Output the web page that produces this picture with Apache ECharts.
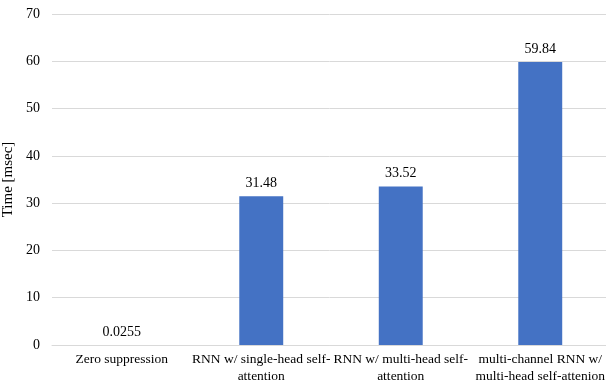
<!DOCTYPE html>
<html>
<head>
<meta charset="utf-8">
<script src="https://cdn.jsdelivr.net/npm/echarts@6/dist/echarts.min.js"></script>
<style>
  html, body { margin: 0; padding: 0; background: #fff; }
  #chart { width: 606px; height: 387px; }
</style>
</head>
<body>
<div id="chart"></div>
<script>
// Inference time per model variant
const categories = [
  'Zero suppression',
  'RNN w/ single-head self-\nattention',
  'RNN w/ multi-head self-\nattention',
  'multi-channel RNN w/\nmulti-head self-attenion'
];
const timeMsec = [0.0255, 31.48, 33.52, 59.84];
const valueLabels = ['0.0255', '31.48', '33.52', '59.84'];
const yTicks = { min: 0, max: 70, interval: 10 };

const font = '"Liberation Serif", "Times New Roman", serif';
const chart = echarts.init(document.getElementById('chart'), null, { renderer: 'canvas' });

chart.setOption({
  animation: false,
  textStyle: { fontFamily: font },
  grid: { left: 52, right: -4, top: 14, bottom: 42, containLabel: false, outerBoundsMode: 'none' },
  xAxis: {
    type: 'category',
    data: categories,
    axisLine: { show: true, lineStyle: { color: '#d9d9d9', width: 1 } },
    axisTick: { show: false },
    axisLabel: {
      interval: 0,
      color: '#000',
      fontFamily: font,
      fontSize: 13.5,
      lineHeight: 17,
      margin: 6
    }
  },
  yAxis: {
    type: 'value',
    min: yTicks.min,
    max: yTicks.max,
    interval: yTicks.interval,
    name: 'Time [msec]',
    nameLocation: 'middle',
    nameGap: 36,
    nameTextStyle: { color: '#000', fontFamily: font, fontSize: 15 },
    axisLine: { show: false },
    axisTick: { show: false },
    axisLabel: { color: '#000', fontFamily: font, fontSize: 14, margin: 12 },
    splitLine: { lineStyle: { color: '#d9d9d9', width: 1 } }
  },
  series: [{
    type: 'bar',
    data: timeMsec,
    barWidth: '31.5%',
    itemStyle: { color: '#4472C4' },
    label: {
      show: true,
      position: 'top',
      distance: 6,
      color: '#000',
      fontFamily: font,
      fontSize: 14,
      formatter: p => valueLabels[p.dataIndex]
    }
  }]
});
</script>
</body>
</html>
